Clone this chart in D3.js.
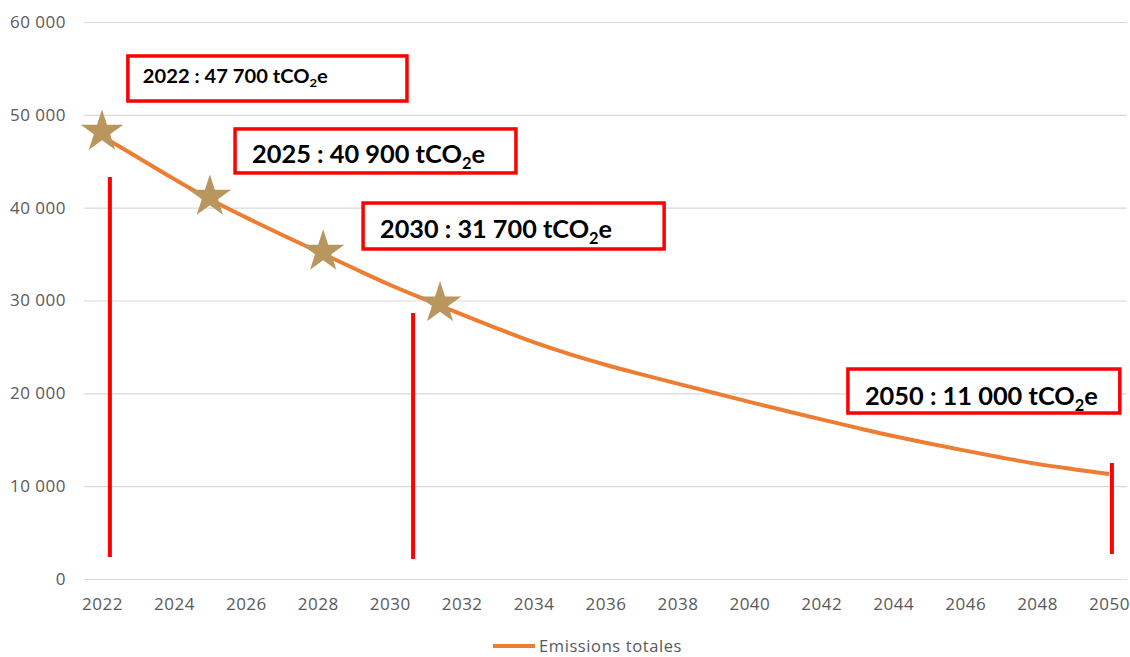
<!DOCTYPE html>
<html>
<head>
<meta charset="utf-8">
<script src="https://cdn.jsdelivr.net/npm/d3@7"></script>
<style>
 body { margin: 0; background: #fff; }
 svg { display: block; }
</style>
</head>
<body>
<div id="chart"></div>
<script>
// emissions trajectory, one value per year
var years = d3.range(2022, 2051);
var emissions = [47700, 45400, 43100, 40900, 38950, 37080, 35280, 33470, 31700, 30080,
  28500, 26980, 25520, 24220, 23080, 22040, 21040, 20060, 19080, 18130,
  17190, 16280, 15400, 14600, 13830, 13090, 12400, 11830, 11300];
var xTicks = d3.range(2022, 2051, 2);
var yTicks = [0, 10000, 20000, 30000, 40000, 50000, 60000];
var seriesName = "Emissions totales";

// milestone stars (placed by hand on the original)
var starYears = [2022.0, 2025.0, 2028.15, 2031.4];
var starValues = [48180, 41180, 35260, 29700];

// red markers: year, top value, bottom value
var markYears = [2022.22, 2030.65, 2050.08];
var markTops = [43300, 28650, 12500];
var markBottoms = [2370, 2150, 2690];

// callout labels
var calloutYears = ["2022", "2025", "2030", "2050"];
var calloutValues = ["47 700", "40 900", "31 700", "11 000"];

var svgWidth = 1130;
var svgHeight = 657;

var svg = d3.select("#chart")
  .append("svg")
    .attr("width", svgWidth)
    .attr("height", svgHeight);

var x = d3.scaleLinear()
  .domain([2021.5, 2050.5])
  .range([84, 1127]);
var y = d3.scaleLinear()
  .domain([0, 60000])
  .range([579, 22]);

var fr = d3.formatLocale({ decimal: ",", thousands: " ", grouping: [3], currency: ["", " €"] });
var fmt = fr.format(",d");
var axisFont = "'Open Sans', 'DejaVu Sans', sans-serif";

// Y axis with gridlines
var yAxis = svg.append("g")
  .attr("transform", "translate(84,0)")
  .call(d3.axisLeft(y).tickValues(yTicks).tickFormat(fmt).tickSize(-(1127 - 84)).tickPadding(18));
yAxis.select(".domain").remove();
yAxis.selectAll(".tick line").attr("stroke", "#d9d9d9").attr("stroke-width", 1.2);
yAxis.selectAll(".tick text")
  .attr("fill", "#595959")
  .style("font-family", axisFont)
  .style("font-size", "17px")
  .style("letter-spacing", "0.5px");

// X axis labels
var xAxis = svg.append("g")
  .attr("transform", "translate(0,579)")
  .call(d3.axisBottom(x).tickValues(xTicks).tickFormat(d3.format("d")).tickSize(0).tickPadding(19));
xAxis.select(".domain").remove();
xAxis.selectAll(".tick text")
  .attr("fill", "#595959")
  .style("font-family", axisFont)
  .style("font-size", "17px")
  .style("letter-spacing", "0.5px");

// emissions line
var line = d3.line()
  .x(function (d, i) { return x(years[i]); })
  .y(function (d) { return y(d); })
  .curve(d3.curveMonotoneX);

svg.append("path")
  .datum(emissions)
  .attr("d", line)
  .attr("fill", "none")
  .attr("stroke", "#ed7d31")
  .attr("stroke-width", 4)
  .attr("stroke-linejoin", "round");

// stars
svg.append("g")
  .selectAll("path")
  .data(starYears)
  .enter()
  .append("path")
    .attr("transform", function (d, i) { return "translate(" + x(d) + "," + y(starValues[i]) + ")"; })
    .attr("d", d3.symbol().type(d3.symbolStar).size(560))
    .attr("fill", "#b9965e");

// red vertical markers
svg.append("g")
  .selectAll("line")
  .data(markYears)
  .enter()
  .append("line")
    .attr("x1", function (d) { return x(d); })
    .attr("x2", function (d) { return x(d); })
    .attr("y1", function (d, i) { return y(markTops[i]); })
    .attr("y2", function (d, i) { return y(markBottoms[i]); })
    .attr("stroke", "#ff0000")
    .attr("stroke-width", 4);

// callout boxes, corners given in chart units
var boxLeft = [2022.72, 2025.70, 2029.26, 2042.74];
var boxRight = [2030.48, 2033.51, 2037.63, 2050.30];
var boxTop = [56340, 48480, 40500, 22620];
var boxBottom = [51490, 43740, 35550, 17880];
var textBase = [53430, 44810, 36730, 18740];
var textWidth = [185, 233, 232, 233];
var textSize = [18.5, 25, 25, 25];

var callouts = svg.append("g")
  .selectAll("g")
  .data(calloutYears)
  .enter()
  .append("g");

callouts.append("rect")
  .attr("x", function (d, i) { return x(boxLeft[i]); })
  .attr("y", function (d, i) { return y(boxTop[i]); })
  .attr("width", function (d, i) { return x(boxRight[i]) - x(boxLeft[i]); })
  .attr("height", function (d, i) { return y(boxBottom[i]) - y(boxTop[i]); })
  .attr("fill", "#fff")
  .attr("stroke", "#ff0000")
  .attr("stroke-width", 3.5);

var txt = callouts.append("text")
  .attr("x", function (d, i) { return x(boxLeft[i]) + (i == 0 ? 15 : 17); })
  .attr("y", function (d, i) { return y(textBase[i]); })
  .attr("textLength", function (d, i) { return textWidth[i]; })
  .attr("lengthAdjust", "spacingAndGlyphs")
  .style("font-family", "Lato, 'Open Sans', sans-serif")
  .style("font-weight", "bold")
  .style("font-size", function (d, i) { return textSize[i] + "px"; })
  .attr("fill", "#000");

txt.append("tspan").text(function (d, i) { return d + " : " + calloutValues[i] + " tCO"; });
txt.append("tspan")
  .attr("dy", function (d, i) { return textSize[i] * 0.22; })
  .style("font-size", function (d, i) { return (textSize[i] * 0.65) + "px"; })
  .text("2");
txt.append("tspan")
  .attr("dy", function (d, i) { return -textSize[i] * 0.22; })
  .text("e");

// legend
var legend = svg.append("g").attr("transform", "translate(493,646)");
legend.append("line")
  .attr("x1", 0).attr("x2", 42)
  .attr("stroke", "#ed7d31")
  .attr("stroke-width", 4);
legend.append("text")
  .attr("x", 46)
  .attr("dy", "0.35em")
  .attr("fill", "#595959")
  .style("font-family", axisFont)
  .style("font-size", "16.5px")
  .style("letter-spacing", "0.6px")
  .text(seriesName);
</script>
</body>
</html>
